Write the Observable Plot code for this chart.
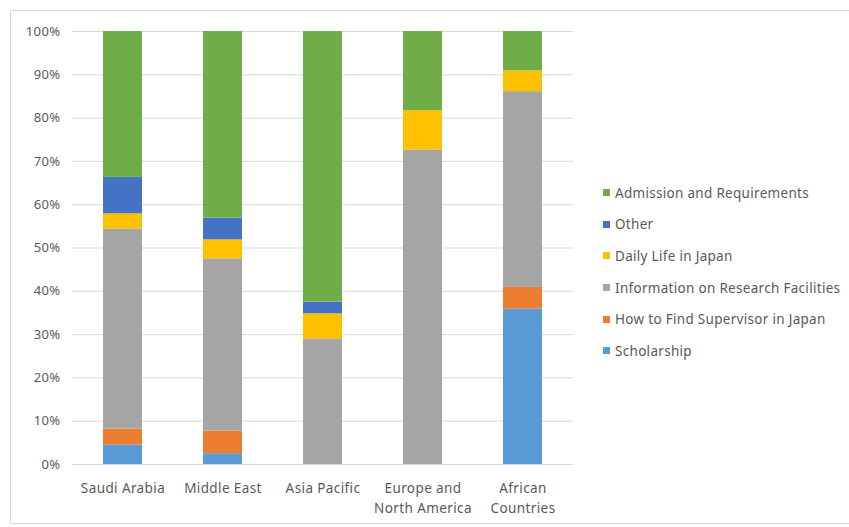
<!DOCTYPE html>
<html>
<head>
<meta charset="utf-8">
<script src="https://cdn.jsdelivr.net/npm/d3@7"></script>
<script src="https://cdn.jsdelivr.net/npm/@observablehq/plot@0.6"></script>
<style>
  html, body { margin: 0; padding: 0; background: #fff; }
  body { width: 849px; height: 527px; position: relative; overflow: hidden;
         font-family: "Noto Sans", "Open Sans", sans-serif; }
  #frame { position: absolute; left: 10px; top: 10px; width: 860px; height: 514px;
           border: 1px solid #d9d9d9; box-sizing: border-box; }
  #chart { position: absolute; left: 0; top: 0; }
  #legend { position: absolute; left: 603px; top: 177px; }
  .item { display: flex; align-items: center; height: 31.6px; font-size: 13.5px;
          letter-spacing: 0.3px; color: #595959; }
  .swatch { width: 7px; height: 7px; margin-right: 5px; }
</style>
</head>
<body>
<div id="frame"></div>
<div id="chart"></div>
<div id="legend"></div>
<script>
// Regions along the x axis
const categories = ["Saudi Arabia", "Middle East", "Asia Pacific", "Europe and\nNorth America", "African\nCountries"];

// Stacked series, bottom to top
const series = [
  "Scholarship",
  "How to Find Supervisor in Japan",
  "Information on Research Facilities",
  "Daily Life in Japan",
  "Other",
  "Admission and Requirements"
];

// Share of inquiries (%) per region, one array per series
const scholarship = [4.5, 2.5, 0, 0, 35.9];
const supervisor  = [3.7, 5.2, 0, 0, 5.0];
const research    = [46.2, 39.8, 29.0, 72.6, 45.2];
const dailyLife   = [3.5, 4.4, 5.8, 9.1, 4.8];
const other       = [8.4, 5.0, 2.7, 0, 0];
const admission   = [33.7, 43.1, 62.5, 18.3, 9.1];

const yTicks = [0, 10, 20, 30, 40, 50, 60, 70, 80, 90, 100];

const colors = ["#5b9bd5", "#ed7d31", "#a5a5a5", "#ffc000", "#4472c4", "#70ad47"];

const valuesBySeries = [scholarship, supervisor, research, dailyLife, other, admission];
const rows = [];
series.forEach((s, i) => {
  categories.forEach((c, j) => rows.push({ region: c, topic: s, value: valuesBySeries[i][j] }));
});

const chart = Plot.plot({
  width: 600,
  height: 527,
  marginLeft: 72,
  marginRight: 27,
  marginTop: 31,
  marginBottom: 63,
  style: {
    fontFamily: "'Noto Sans', 'Open Sans', sans-serif",
    color: "#595959",
    background: "transparent",
    letterSpacing: "0.4px"
  },
  x: { domain: categories, paddingInner: 0.61, paddingOuter: 0.305, axis: null },
  y: { domain: [0, 100], axis: null },
  color: { domain: series, range: colors },
  marks: [
    Plot.gridY(yTicks, { stroke: "#d9d9d9", strokeOpacity: 1, strokeWidth: 1 }),
    Plot.barY(rows, Plot.stackY({
      order: series,
      x: "region",
      y: "value",
      fill: "topic"
    })),
    Plot.axisY(yTicks, {
      tickSize: 0,
      tickPadding: 12,
      tickFormat: d => d + "%",
      fontSize: 13,
      fill: "#595959",
      label: null
    }),
    Plot.axisX({
      tickSize: 0,
      tickPadding: 14,
      fontSize: 13.5,
      lineHeight: 1.5,
      lineAnchor: "top",
      fill: "#595959",
      label: null
    })
  ]
});
document.getElementById("chart").appendChild(chart);

// Legend, listed top to bottom in reverse stacking order
const legend = document.getElementById("legend");
series.map((s, i) => [s, colors[i]]).reverse().forEach(([s, c]) => {
  const item = document.createElement("div");
  item.className = "item";
  const sw = document.createElement("span");
  sw.className = "swatch";
  sw.style.background = c;
  const label = document.createElement("span");
  label.textContent = s;
  item.appendChild(sw);
  item.appendChild(label);
  legend.appendChild(item);
});
</script>
</body>
</html>
